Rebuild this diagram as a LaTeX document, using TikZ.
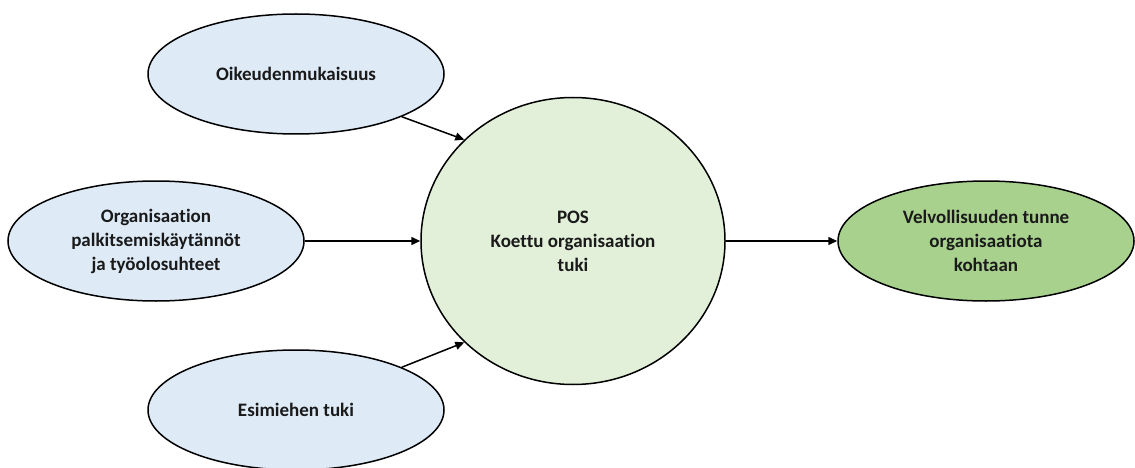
\documentclass[tikz,border=0pt]{standalone}
\usepackage{fontspec}
\setmainfont{Carlito}[Ligatures=NoCommon]
\usetikzlibrary{shapes.geometric,arrows.meta}
\definecolor{bluefill}{HTML}{DEEBF7}
\definecolor{palegreen}{HTML}{E2F0D9}
\definecolor{darkgreen}{HTML}{A9D18E}
\definecolor{txt}{HTML}{1A1A1A}
\tikzset{
  x=1pt,y=-1pt,
  oval/.style={ellipse,draw=black,line width=1.5pt,inner sep=0pt,
    minimum width=296pt,minimum height=120pt,align=center,
    font=\fontsize{19}{24}\selectfont\bfseries,text=txt},
  bigoval/.style={oval,minimum width=304pt,minimum height=287pt,fill=palegreen},
  conn/.style={line width=1.5pt,-{Triangle[length=9pt,width=8pt]}}
}
\begin{document}
\begin{tikzpicture}
\useasboundingbox (0,0) rectangle (1135,468);
\node[oval,fill=bluefill] (top) at (296,74) {Oikeudenmukaisuus};
\node[oval,fill=bluefill] (mid) at (156,241) {Organisaation\\palkitsemiskäytännöt\\ja työolosuhteet};
\node[oval,fill=bluefill] (bot) at (296,410) {Esimiehen tuki};
\node[bigoval] (pos) at (573,241) {POS\\Koettu organisaation\\tuki};
\node[oval,fill=darkgreen] (out) at (986,241) {Velvollisuuden tunne\\organisaatiota\\kohtaan};
\draw[conn] (top.-22) -- (pos.137);
\draw[conn] (mid.east) -- (pos.west);
\draw[conn] (bot.22) -- (pos.-137);
\draw[conn] (pos.east) -- (out.west);
\end{tikzpicture}
\end{document}
